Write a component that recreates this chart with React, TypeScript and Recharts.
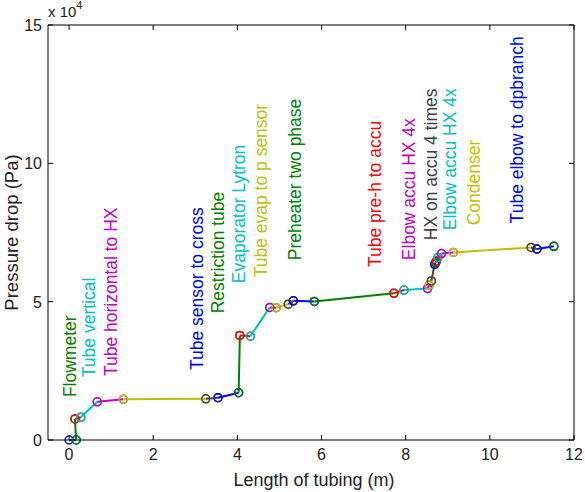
import { ComposedChart, Line, Scatter, XAxis, YAxis, Label } from 'recharts'

// cumulative length of tubing (m) and pressure drop (Pa) at each joint
const lengthM = [
  0, 0.17, 0.14, 0.28, 0.67, 1.29, 3.25, 3.54, 4.03, 4.06, 4.31, 4.77, 4.92, 5.21, 5.33,
  5.83, 7.72, 7.96, 8.52, 8.56, 8.61, 8.69, 8.71, 8.73, 8.77, 8.85, 9.13, 10.98, 11.12, 11.52,
]
const dropPa = [
  0, 0, 7600, 8200, 13800, 14700, 14900, 15300, 17100, 37800, 37500, 47900, 47800, 49100,
  50300, 50100, 53000, 54200, 54800, 56000, 57500, 63500, 64100, 64700, 66000, 67400, 67800,
  69600, 69000, 70000,
]

// old matlab color order, one color per segment
const colorOrder = ['#0000ff', '#008000', '#ff0000', '#00bfbf', '#bf00bf', '#bfbf00', '#404040']

const labelText = [
  'Flowmeter',
  'Tube vertical',
  'Tube horizontal to HX',
  'Tube sensor to cross',
  'Restriction tube',
  'Evaporator Lytron',
  'Tube evap to p sensor',
  'Preheater two phase',
  'Tube pre-h to accu',
  'Elbow accu HX 4x',
  'HX on accu 4 times',
  'Elbow accu HX 4x',
  'Condenser',
  'Tube elbow to dpbranch',
]
const labelX = [0.02, 0.48, 1.0, 3.05, 3.55, 4.05, 4.57, 5.38, 7.26, 8.07, 8.6, 9.05, 9.62, 10.64]
const labelY = [15500, 22700, 23100, 25300, 45800, 56700, 58800, 65000, 62500, 65000, 72200, 75800, 77600, 78300]
const labelColor = [
  '#008000', '#00bfbf', '#bf00bf', '#0000ff', '#008000', '#00bfbf', '#bfbf00',
  '#008000', '#ff0000', '#bf00bf', '#404040', '#00bfbf', '#bfbf00', '#0000ff',
]

const xTicks = [0, 2, 4, 6, 8, 10, 12]
const yTicks = [0, 50000, 100000, 150000]
const X_DOMAIN = [-0.5, 12]
const Y_DOMAIN = [0, 150000]

const W = 585
const H = 492
const X_AXIS_H = 52
const Y_AXIS_W = 48
const MARGIN = { top: 25, right: 11, bottom: 0, left: 0 }
const PLOT_LEFT = MARGIN.left + Y_AXIS_W
const PLOT_RIGHT = W - MARGIN.right
const PLOT_TOP = MARGIN.top
const PLOT_BOTTOM = H - MARGIN.bottom - X_AXIS_H
const TICK_LEN = 5
const FONT = '"Liberation Sans", Arial, Helvetica, sans-serif'
const AXIS_COLOR = '#000'

// each joint-to-joint piece is its own line, markers at both ends
const segments = lengthM.map((x, i) => {
  const pts = [{ x, y: dropPa[i] }]
  if (i + 1 < lengthM.length) pts.push({ x: lengthM[i + 1], y: dropPa[i + 1] })
  return { pts, color: colorOrder[i % colorOrder.length] }
})

const labels = labelText.map((text, i) => ({
  x: labelX[i],
  y: labelY[i],
  text,
  color: labelColor[i],
}))

// box position of a tick value, same linear mapping as the plot area
const tickX = (v: number) =>
  PLOT_LEFT + ((v - X_DOMAIN[0]) / (X_DOMAIN[1] - X_DOMAIN[0])) * (PLOT_RIGHT - PLOT_LEFT)
const tickY = (v: number) =>
  PLOT_BOTTOM - ((v - Y_DOMAIN[0]) / (Y_DOMAIN[1] - Y_DOMAIN[0])) * (PLOT_BOTTOM - PLOT_TOP)

// matlab style box with inward ticks on all four sides
const boxPath = [
  `M${PLOT_LEFT},${PLOT_TOP}H${PLOT_RIGHT}V${PLOT_BOTTOM}H${PLOT_LEFT}Z`,
  ...xTicks.map(
    (v) =>
      `M${tickX(v)},${PLOT_BOTTOM}v${-TICK_LEN}M${tickX(v)},${PLOT_TOP}v${TICK_LEN}`,
  ),
  ...yTicks.map(
    (v) =>
      `M${PLOT_LEFT},${tickY(v)}h${TICK_LEN}M${PLOT_RIGHT},${tickY(v)}h${-TICK_LEN}`,
  ),
].join('')

const BottomTick = (props: any) => (
  <text x={props.x} y={PLOT_BOTTOM + 20} textAnchor="middle" fontSize={16} fontFamily={FONT} fill="#222">
    {props.payload.value}
  </text>
)

const LeftTick = (props: any) => (
  <text x={PLOT_LEFT - 6} y={props.y + 6} textAnchor="end" fontSize={16} fontFamily={FONT} fill="#222">
    {props.payload.value / 1e4}
  </text>
)

const RotatedLabel = (props: any) => {
  const { cx, cy, payload } = props
  return (
    <text
      x={cx}
      y={cy}
      transform={`rotate(-90 ${cx} ${cy})`}
      textAnchor="start"
      dominantBaseline="central"
      fontSize={17.5}
      fontFamily={FONT}
      fill={payload.color}
    >
      {payload.text}
    </text>
  )
}

export default function App() {
  return (
    <div style={{ position: 'absolute', left: 0, top: 0 }}>
      <ComposedChart width={W} height={H} margin={MARGIN}>
        <XAxis
          dataKey="x"
          type="number"
          domain={X_DOMAIN}
          ticks={xTicks}
          interval={0}
          height={X_AXIS_H}
          axisLine={false}
          tickLine={false}
          tick={<BottomTick />}
        >
          <Label
            content={() => (
              <text
                x={(PLOT_LEFT + PLOT_RIGHT) / 2 + 3}
                y={PLOT_BOTTOM + 46}
                textAnchor="middle"
                fontSize={18}
                fontFamily={FONT}
                fill="#222"
              >
                Length of tubing (m)
              </text>
            )}
          />
        </XAxis>
        <YAxis
          dataKey="y"
          type="number"
          domain={Y_DOMAIN}
          ticks={yTicks}
          interval={0}
          width={Y_AXIS_W}
          axisLine={false}
          tickLine={false}
          tick={<LeftTick />}
        >
          <Label
            content={() => (
              <text
                x={11}
                y={(PLOT_TOP + PLOT_BOTTOM) / 2}
                transform={`rotate(-90 11 ${(PLOT_TOP + PLOT_BOTTOM) / 2})`}
                textAnchor="middle"
                dominantBaseline="central"
                fontSize={18.5}
                fontFamily={FONT}
                fill="#222"
              >
                Pressure drop (Pa)
              </text>
            )}
          />
          <Label
            content={() => (
              <text x={PLOT_LEFT} y={PLOT_TOP - 8} fontSize={15} fontFamily={FONT} fill="#222">
                x 10
                <tspan dy={-8} fontSize={11}>
                  4
                </tspan>
              </text>
            )}
          />
        </YAxis>
        <svg>
          <path d={boxPath} stroke={AXIS_COLOR} strokeWidth={1} fill="none" />
        </svg>
        {segments.map((s, i) => (
          <Line
            key={i}
            data={s.pts}
            dataKey="y"
            type="linear"
            stroke={s.color}
            strokeWidth={2}
            dot={{ r: 4, stroke: s.color, strokeWidth: 1.5, fill: 'none' }}
            activeDot={false}
            isAnimationActive={false}
          />
        ))}
        <Scatter data={labels} dataKey="y" shape={<RotatedLabel />} isAnimationActive={false} />
      </ComposedChart>
    </div>
  )
}
